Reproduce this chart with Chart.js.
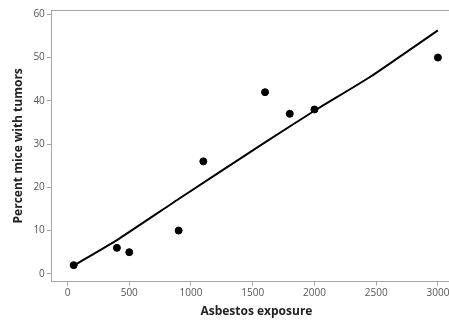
<!DOCTYPE html>
<html>
<head>
<meta charset="utf-8">
<script src="https://cdn.jsdelivr.net/npm/chart.js@4/dist/chart.umd.min.js"></script>
<style>
  html, body { margin: 0; padding: 0; background: #fff; }
  #clip { width: 449px; height: 321px; overflow: hidden; }
  #wrap { width: 466px; height: 321px; }
</style>
</head>
<body>
<div id="clip"><div id="wrap"><canvas id="chart"></canvas></div></div>
<script>
// observed data
const exposure = [50, 400, 500, 900, 1100, 1600, 1800, 2000, 3000];
const tumorPct = [2, 6, 5, 10, 26, 42, 37, 38, 50];

// fitted (smoothed) line
const fitX = [50, 400, 900, 1600, 2000, 2450, 3000];
const fitY = [1.9, 7.8, 17.3, 30.4, 37.7, 45.5, 56.3];

const xTicks = [0, 500, 1000, 1500, 2000, 2500, 3000];
const yTicks = [0, 10, 20, 30, 40, 50, 60];

const axisGrey = '#a6a6a6';
const tickFont = { family: 'Open Sans', size: 10 };
const titleFont = { family: 'Open Sans', size: 12, weight: 'bold' };

// top border of the plot box
const topBorder = {
    id: 'topBorder',
    afterDraw(chart) {
        const { ctx, chartArea } = chart;
        ctx.save();
        ctx.strokeStyle = axisGrey;
        ctx.lineWidth = 1;
        ctx.beginPath();
        ctx.moveTo(chartArea.left, chartArea.top + 0.5);
        ctx.lineTo(chartArea.right, chartArea.top + 0.5);
        ctx.stroke();
        ctx.restore();
    }
};

new Chart(document.getElementById('chart'), {
    type: 'scatter',
    data: {
        datasets: [
            {
                label: 'Observed',
                data: exposure.map((x, i) => ({ x: x, y: tumorPct[i] })),
                backgroundColor: '#000',
                borderColor: '#000',
                pointRadius: 3.5,
                showLine: false
            },
            {
                label: 'Fit',
                data: fitX.map((x, i) => ({ x: x, y: fitY[i] })),
                borderColor: '#000',
                borderWidth: 2,
                pointRadius: 0,
                showLine: true,
                tension: 0.15
            }
        ]
    },
    options: {
        responsive: true,
        maintainAspectRatio: false,
        animation: false,
        layout: { padding: { left: 11, top: 10, right: 0, bottom: 2 } },
        scales: {
            x: {
                type: 'linear',
                min: -127,
                max: 3187,
                afterBuildTicks: s => { s.ticks = xTicks.map(v => ({ value: v })); },
                ticks: { color: '#555', font: tickFont, maxRotation: 0, autoSkip: false, padding: 2, callback: v => String(v) },
                grid: { display: true, drawOnChartArea: false, drawTicks: true, tickLength: 4, color: axisGrey },
                border: { display: true, color: axisGrey },
                title: { display: true, text: 'Asbestos exposure', color: '#222', font: titleFont, padding: { top: 3, bottom: 0 } }
            },
            y: {
                type: 'linear',
                min: -1.8,
                max: 61,
                afterBuildTicks: s => { s.ticks = yTicks.map(v => ({ value: v })); },
                ticks: { color: '#555', font: tickFont, autoSkip: false, padding: 2, callback: v => String(v) },
                grid: { display: true, drawOnChartArea: false, drawTicks: true, tickLength: 5, color: axisGrey },
                border: { display: true, color: axisGrey },
                title: { display: true, text: 'Percent mice with tumors', color: '#222', font: titleFont, padding: { top: 0, bottom: 6 } }
            }
        },
        plugins: {
            legend: { display: false },
            tooltip: { enabled: false }
        }
    },
    plugins: [topBorder]
});
</script>
</body>
</html>
